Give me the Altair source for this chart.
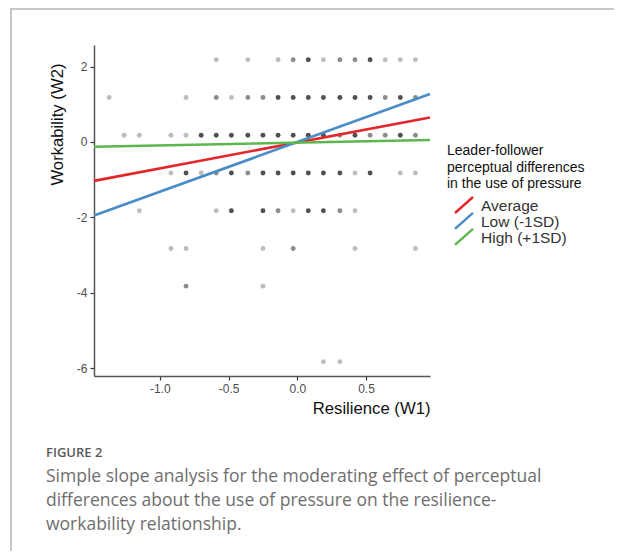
import altair as alt
import pandas as pd

# ---- data ----
x_cols = [-1.37, -1.26, -1.15, -1.03, -0.92, -0.81, -0.70, -0.59, -0.48, -0.36,
          -0.25, -0.14, -0.03, 0.08, 0.19, 0.31, 0.42, 0.53, 0.64, 0.75, 0.86]
row_y = [2.18, 1.18, 0.18, -0.82, -1.82, -2.82, -3.82, -5.82]
# (column index, overlap shade 1=light 2=mid 3=dark) per row
row_2 = [(7, 1), (9, 1), (11, 1), (12, 2), (13, 3), (14, 1), (15, 2), (16, 2), (17, 3), (18, 1), (19, 1), (20, 1)]
row_1 = [(0, 1), (5, 1), (7, 2), (8, 1), (9, 2), (10, 2), (11, 3), (12, 3), (13, 3), (14, 3), (15, 3), (16, 3),
         (17, 3), (18, 2), (19, 3), (20, 2)]
row_0 = [(1, 1), (2, 1), (4, 1), (5, 1), (6, 3), (7, 3), (8, 3), (9, 3), (10, 3), (11, 3), (12, 3), (13, 3),
         (14, 3), (15, 2), (16, 3), (17, 2), (18, 2), (19, 3), (20, 2)]
row_m1 = [(4, 1), (5, 3), (6, 1), (7, 2), (8, 3), (9, 2), (10, 3), (11, 3), (12, 3), (13, 3), (14, 3), (15, 3),
          (16, 1), (17, 3), (19, 1), (20, 1)]
row_m2 = [(2, 1), (7, 1), (8, 3), (10, 3), (11, 2), (12, 1), (13, 3), (14, 3), (15, 2), (16, 1)]
row_m3 = [(4, 1), (5, 1), (10, 1), (12, 2), (16, 1), (20, 1)]
row_m4 = [(5, 2), (10, 1)]
row_m6 = [(14, 1), (15, 1)]
rows = [row_2, row_1, row_0, row_m1, row_m2, row_m3, row_m4, row_m6]

line_groups = ["Average", "Low (-1SD)", "High (+1SD)"]
line_x = [-1.48, 0.966]
line_y_average = [-1.03, 0.65]
line_y_low = [-1.95, 1.27]
line_y_high = [-0.124, 0.053]
line_colors = ["#E4262B", "#4A8CC7", "#5CB84E"]
legend_title = ["Leader-follower", "perceptual differences", "in the use of pressure"]

caption_head = "FIGURE 2"
caption_lines = ["Simple slope analysis for the moderating effect of perceptual",
                 "differences about the use of pressure on the resilience-",
                 "workability relationship."]

# ---- tables ----
pts = []
for yv, row in zip(row_y, rows):
    for k, shade in row:
        pts.append({"x": x_cols[k], "y": yv, "n": shade})
pts = pd.DataFrame(pts)

lines = []
for g, ys in zip(line_groups, [line_y_average, line_y_low, line_y_high]):
    for xv, yv in zip(line_x, ys):
        lines.append({"x": xv, "y": yv, "g": g})
lines = pd.DataFrame(lines)

xscale = alt.Scale(domain=[-1.48, 0.966], nice=False, zero=False)
yscale = alt.Scale(domain=[-6.2, 2.57], nice=False, zero=False)
minus_fix = "replace(datum.label, '\u2212', '-')"

points = alt.Chart(pts).mark_circle(size=24, opacity=1).encode(
    x=alt.X("x:Q", scale=xscale,
            axis=alt.Axis(values=[-1.0, -0.5, 0.0, 0.5], format=".1f", labelExpr=minus_fix,
                          title="Resilience (W1)", titleAnchor="end")),
    y=alt.Y("y:Q", scale=yscale,
            axis=alt.Axis(values=[2, 0, -2, -4, -6], format="d", labelExpr=minus_fix,
                          title="Workability (W2)", titleAnchor="end", titleY=18)),
    color=alt.Color("n:O", scale=alt.Scale(domain=[1, 2, 3], range=["#bdbdbd", "#8c8c8c", "#505050"]),
                    legend=None),
)

line_layer = alt.Chart(lines).mark_line(strokeWidth=2.6).encode(
    x="x:Q",
    y="y:Q",
    stroke=alt.Stroke("g:N", scale=alt.Scale(domain=line_groups, range=line_colors), legend=None),
)

# ---- legend drawn as marks (placed right of the plot) ----
legend_layers = []
title_df = pd.DataFrame({"t": ["\n".join(legend_title)]})
legend_layers.append(alt.Chart(title_df).mark_text(
    align="left", baseline="alphabetic", font="Liberation Sans", fontSize=14, color="#111",
    lineBreak="\n", lineHeight=16.7,
).encode(text="t:N", x=alt.value(353), y=alt.value(110)))
for i, (g, c) in enumerate(zip(line_groups, line_colors)):
    one = pd.DataFrame({"g": [g]})
    cy = 160 + i * 15.9
    legend_layers.append(alt.Chart(one).mark_rule(color=c, strokeWidth=2.4).encode(
        x=alt.value(361), x2=alt.value(379), y=alt.value(cy + 8), y2=alt.value(cy - 8)))
    legend_layers.append(alt.Chart(one).mark_text(
        align="left", baseline="middle", font="Liberation Sans", fontSize=15.5, color="#333"
    ).encode(text="g:N", x=alt.value(387), y=alt.value(cy + 1)))

frame_left = alt.Chart(pts).mark_rule(color="#c6c6c6", strokeWidth=2).encode(
    x=alt.value(-83), y=alt.value(-38), y2=alt.value(530))
frame_top = alt.Chart(pts).mark_rule(color="#c6c6c6", strokeWidth=2.5).encode(
    x=alt.value(-84), x2=alt.value(560), y=alt.value(-37))

head_df = pd.DataFrame({"t": [caption_head]})
cap_df = pd.DataFrame({"t": ["\n".join(caption_lines)]})

head = alt.Chart(head_df).mark_text(
    align="left", baseline="alphabetic", font="Open Sans", fontSize=13, fontWeight=600, color="#5a5a5a"
).encode(text="t:N", x=alt.value(-48), y=alt.value(412))

cap = alt.Chart(cap_df).mark_text(
    align="left", baseline="alphabetic", font="Open Sans", fontSize=17.5, color="#6e6e6e",
    lineBreak="\n", lineHeight=24,
).encode(text="t:N", x=alt.value(-48), y=alt.value(437))

chart = alt.layer(frame_left, frame_top, points, line_layer, *legend_layers, head, cap).properties(
    width=336, height=331,
    autosize=alt.AutoSizeParams(type="none"),
    padding={"left": 86, "top": 37, "right": 184, "bottom": 175},
).configure_view(stroke=None).configure_axis(
    grid=False, domainColor="#555", domainWidth=1.5, tickColor="#333", tickSize=4,
    tickWidth=1.2, labelFont="Liberation Sans", labelFontSize=12, labelColor="#4d4d4d",
    titleFont="Liberation Sans", titleFontSize=16.7, titleFontWeight="normal", titleColor="#111",
    labelPadding=3,
).configure_axisY(titlePadding=10).configure_axisX(titlePadding=6)

chart.save("out.html", embed_options={"renderer": "svg", "actions": False})
